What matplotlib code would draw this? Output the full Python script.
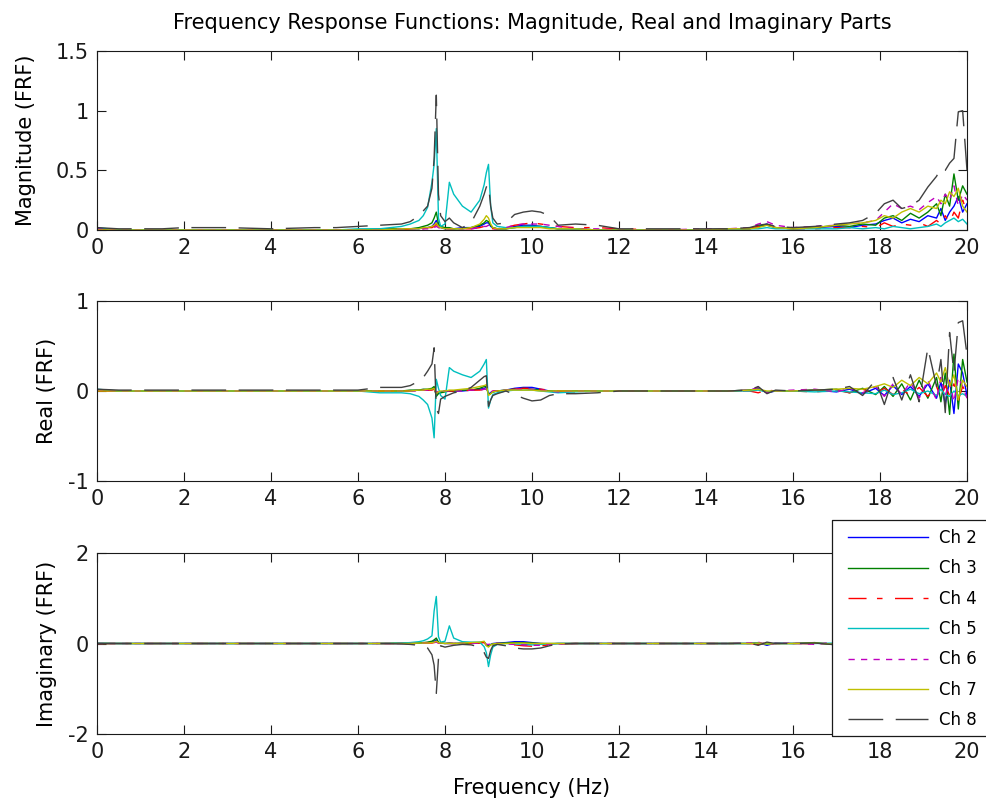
import matplotlib
matplotlib.use("Agg")
import matplotlib.pyplot as plt
from matplotlib.patches import Rectangle
from matplotlib.lines import Line2D

plt.rcParams['font.family'] = ['DejaVu Sans']
plt.rcParams['axes.unicode_minus'] = False

# ---------------- data ----------------
freq = [0, 0.5, 1, 1.5, 2, 3, 4, 5, 5.5, 6,
        6.5, 7, 7.2, 7.4, 7.5, 7.6, 7.7, 7.75, 7.8, 7.85,
        7.9, 8.0, 8.1, 8.2, 8.4, 8.6, 8.8, 8.9, 8.95, 9.0,
        9.05, 9.1, 9.2, 9.4, 9.6, 9.8, 10.0, 10.2, 10.4, 10.6,
        11.0, 11.5, 12, 13, 14, 14.5, 15, 15.2, 15.4, 15.6,
        16, 16.5, 17, 17.3, 17.6, 17.9, 18.1, 18.3, 18.5, 18.7,
        18.9, 19.1, 19.3, 19.4, 19.5, 19.6, 19.7, 19.8, 19.9, 20]

channels = ["Ch 2", "Ch 3", "Ch 4", "Ch 5", "Ch 6", "Ch 7", "Ch 8"]

# Magnitude
mag_ch2 = [0.01, 0.00, 0.00, 0.00, 0.00, 0.00, 0.00, 0.00, 0.00, 0.00,
           0.00, 0.01, 0.01, 0.01, 0.02, 0.02, 0.03, 0.05, 0.08, 0.03,
           0.02, 0.01, 0.01, 0.01, 0.02, 0.02, 0.03, 0.05, 0.06, 0.06,
           0.03, 0.02, 0.01, 0.01, 0.03, 0.04, 0.04, 0.03, 0.02, 0.01,
           0.01, 0.00, 0.00, 0.00, 0.00, 0.01, 0.01, 0.03, 0.05, 0.02,
           0.01, 0.02, 0.03, 0.02, 0.04, 0.05, 0.08, 0.10, 0.06, 0.09,
           0.07, 0.12, 0.10, 0.18, 0.08, 0.15, 0.20, 0.28, 0.15, 0.22]
mag_ch3 = [0.01, 0.00, 0.00, 0.00, 0.00, 0.00, 0.00, 0.00, 0.00, 0.00,
           0.01, 0.01, 0.01, 0.02, 0.03, 0.04, 0.06, 0.10, 0.15, 0.05,
           0.03, 0.02, 0.02, 0.01, 0.01, 0.02, 0.04, 0.06, 0.08, 0.07,
           0.04, 0.02, 0.01, 0.01, 0.02, 0.03, 0.03, 0.03, 0.02, 0.01,
           0.01, 0.00, 0.00, 0.00, 0.00, 0.01, 0.01, 0.03, 0.04, 0.02,
           0.01, 0.02, 0.04, 0.03, 0.05, 0.04, 0.10, 0.12, 0.08, 0.14,
           0.10, 0.15, 0.22, 0.12, 0.30, 0.20, 0.47, 0.25, 0.37, 0.30]
mag_ch4 = [0.00, 0.00, 0.00, 0.00, 0.00, 0.00, 0.00, 0.00, 0.00, 0.00,
           0.00, 0.00, 0.01, 0.01, 0.01, 0.02, 0.02, 0.03, 0.05, 0.02,
           0.01, 0.01, 0.01, 0.01, 0.01, 0.01, 0.02, 0.03, 0.04, 0.04,
           0.02, 0.01, 0.01, 0.02, 0.04, 0.05, 0.06, 0.05, 0.04, 0.03,
           0.02, 0.02, 0.01, 0.00, 0.00, 0.01, 0.01, 0.03, 0.05, 0.02,
           0.01, 0.01, 0.02, 0.02, 0.03, 0.02, 0.06, 0.03, 0.05, 0.04,
           0.06, 0.03, 0.08, 0.05, 0.12, 0.06, 0.15, 0.10, 0.25, 0.15]
mag_ch5 = [0.02, 0.00, 0.00, 0.00, 0.00, 0.00, 0.00, 0.00, 0.00, 0.01,
           0.01, 0.03, 0.05, 0.08, 0.12, 0.19, 0.40, 0.55, 0.85, 0.10,
           0.03, 0.05, 0.40, 0.30, 0.20, 0.15, 0.25, 0.38, 0.48, 0.55,
           0.20, 0.06, 0.03, 0.02, 0.02, 0.03, 0.03, 0.03, 0.02, 0.01,
           0.01, 0.00, 0.00, 0.00, 0.00, 0.01, 0.01, 0.01, 0.02, 0.01,
           0.01, 0.01, 0.01, 0.02, 0.01, 0.02, 0.01, 0.03, 0.02, 0.01,
           0.02, 0.03, 0.05, 0.03, 0.06, 0.08, 0.10, 0.07, 0.09, 0.05]
mag_ch6 = [0.01, 0.00, 0.00, 0.00, 0.00, 0.00, 0.00, 0.00, 0.00, 0.00,
           0.00, 0.01, 0.01, 0.01, 0.01, 0.01, 0.02, 0.02, 0.03, 0.02,
           0.01, 0.01, 0.01, 0.01, 0.01, 0.01, 0.02, 0.03, 0.03, 0.04,
           0.02, 0.01, 0.01, 0.02, 0.04, 0.05, 0.05, 0.05, 0.04, 0.03,
           0.01, 0.01, 0.00, 0.00, 0.01, 0.01, 0.02, 0.05, 0.07, 0.04,
           0.02, 0.03, 0.04, 0.05, 0.06, 0.08, 0.15, 0.22, 0.18, 0.20,
           0.17, 0.23, 0.28, 0.22, 0.30, 0.25, 0.37, 0.20, 0.30, 0.25]
mag_ch7 = [0.00, 0.00, 0.00, 0.00, 0.00, 0.00, 0.00, 0.00, 0.00, 0.00,
           0.00, 0.01, 0.01, 0.01, 0.02, 0.02, 0.03, 0.04, 0.06, 0.03,
           0.02, 0.01, 0.01, 0.01, 0.01, 0.02, 0.05, 0.09, 0.12, 0.10,
           0.05, 0.02, 0.01, 0.01, 0.02, 0.02, 0.02, 0.02, 0.01, 0.01,
           0.01, 0.00, 0.00, 0.00, 0.00, 0.01, 0.01, 0.02, 0.04, 0.02,
           0.01, 0.02, 0.04, 0.05, 0.06, 0.08, 0.12, 0.10, 0.15, 0.18,
           0.15, 0.20, 0.18, 0.25, 0.22, 0.32, 0.28, 0.35, 0.20, 0.15]
mag_ch8 = [0.02, 0.01, 0.01, 0.01, 0.02, 0.02, 0.01, 0.02, 0.02, 0.03,
           0.04, 0.05, 0.07, 0.12, 0.16, 0.20, 0.35, 0.60, 1.13, 0.30,
           0.12, 0.07, 0.10, 0.06, 0.02, 0.06, 0.20, 0.30, 0.36, 0.38,
           0.20, 0.10, 0.05, 0.06, 0.13, 0.15, 0.16, 0.15, 0.12, 0.04,
           0.05, 0.04, 0.01, 0.01, 0.01, 0.01, 0.02, 0.04, 0.05, 0.03,
           0.02, 0.03, 0.05, 0.06, 0.08, 0.14, 0.22, 0.25, 0.18, 0.20,
           0.25, 0.36, 0.45, 0.52, 0.50, 0.56, 0.60, 0.99, 1.00, 0.50]

# Real part
re_ch2 = [0.01, 0.00, 0.00, 0.00, 0.00, 0.00, 0.00, 0.00, 0.00, 0.00,
          0.00, 0.00, 0.00, 0.01, 0.01, 0.01, 0.02, 0.03, -0.04, -0.02,
          -0.01, 0.00, 0.00, 0.00, 0.00, 0.01, 0.02, 0.03, 0.04, -0.03,
          -0.02, -0.01, 0.00, 0.01, 0.03, 0.04, 0.04, 0.02, 0.00, -0.01,
          0.00, 0.00, 0.00, 0.00, 0.00, 0.00, 0.01, 0.03, -0.02, 0.00,
          0.00, 0.01, -0.01, 0.02, -0.03, 0.03, -0.05, 0.06, -0.04, 0.05,
          -0.06, 0.08, -0.08, 0.10, -0.15, 0.12, -0.25, 0.30, 0.20, -0.05]
re_ch3 = [0.01, 0.00, 0.00, 0.00, 0.00, 0.00, 0.00, 0.00, 0.00, 0.00,
          0.00, 0.00, 0.01, 0.01, 0.02, 0.02, 0.03, 0.05, -0.06, -0.03,
          -0.02, -0.01, 0.00, 0.00, 0.01, 0.01, 0.03, 0.05, 0.05, -0.04,
          -0.03, -0.01, 0.00, 0.01, 0.02, 0.03, 0.02, 0.01, 0.00, 0.00,
          0.00, 0.00, 0.00, 0.00, 0.00, 0.00, 0.01, 0.02, -0.01, 0.00,
          0.00, 0.01, 0.02, -0.02, 0.03, -0.04, 0.05, -0.06, 0.08, -0.10,
          0.12, -0.08, 0.15, -0.12, 0.20, -0.26, 0.41, -0.20, 0.35, 0.10]
re_ch4 = [0.00, 0.00, 0.00, 0.00, 0.00, 0.00, 0.00, 0.00, 0.00, 0.00,
          0.00, 0.00, 0.00, 0.00, 0.01, 0.01, 0.01, 0.02, -0.02, -0.01,
          -0.01, 0.00, 0.00, 0.00, 0.00, 0.01, 0.01, 0.02, 0.02, -0.02,
          -0.01, 0.00, 0.00, 0.01, 0.02, 0.03, 0.03, 0.02, 0.01, 0.00,
          -0.01, 0.00, 0.00, 0.00, 0.00, 0.00, 0.00, -0.02, 0.01, 0.00,
          0.00, -0.01, 0.01, -0.02, 0.02, -0.03, 0.03, -0.04, 0.02, -0.05,
          0.04, -0.06, 0.05, -0.08, 0.06, -0.05, 0.08, -0.10, 0.05, -0.03]
re_ch5 = [0.02, 0.00, 0.00, 0.00, 0.00, 0.00, 0.00, 0.00, 0.00, 0.00,
          -0.02, -0.02, -0.03, -0.06, -0.10, -0.15, -0.30, -0.52, 0.13, 0.03,
          -0.05, -0.09, 0.26, 0.22, 0.18, 0.15, 0.22, 0.30, 0.35, -0.19,
          -0.10, -0.04, -0.02, 0.00, 0.01, 0.01, 0.01, 0.00, -0.01, -0.02,
          -0.01, 0.00, 0.00, 0.00, 0.00, 0.00, 0.00, 0.01, -0.01, 0.00,
          0.00, -0.01, 0.00, -0.01, -0.02, -0.03, 0.01, -0.04, -0.02, 0.02,
          -0.03, 0.00, -0.05, 0.02, -0.04, -0.06, 0.00, -0.05, -0.03, -0.06]
re_ch6 = [0.01, 0.00, 0.00, 0.00, 0.00, 0.00, 0.00, 0.00, 0.00, 0.00,
          0.00, 0.00, 0.00, 0.00, 0.01, 0.01, 0.01, 0.02, -0.02, 0.01,
          0.00, 0.00, 0.00, 0.00, 0.00, 0.01, 0.01, 0.02, 0.02, -0.02,
          -0.01, 0.00, 0.00, 0.01, 0.02, 0.02, 0.02, 0.01, 0.00, -0.01,
          0.00, 0.00, 0.00, 0.00, 0.00, 0.00, 0.01, 0.04, -0.02, 0.00,
          0.01, 0.02, -0.01, 0.03, -0.02, 0.05, -0.06, 0.08, -0.04, 0.10,
          -0.08, 0.12, -0.10, 0.15, -0.05, 0.10, -0.12, 0.15, 0.05, -0.08]
re_ch7 = [0.00, 0.00, 0.00, 0.00, 0.00, 0.00, 0.00, 0.00, 0.00, 0.00,
          0.00, 0.00, 0.00, 0.01, 0.01, 0.02, 0.02, 0.03, -0.03, -0.01,
          0.00, 0.00, 0.01, 0.01, 0.02, 0.03, 0.05, 0.06, 0.07, -0.05,
          -0.03, -0.01, 0.00, 0.01, 0.01, 0.01, 0.01, 0.00, 0.00, 0.00,
          0.00, 0.00, 0.00, 0.00, 0.00, 0.00, 0.01, 0.02, 0.00, 0.00,
          0.00, 0.01, 0.02, 0.03, 0.02, 0.05, 0.08, 0.04, 0.12, 0.06,
          0.15, 0.08, 0.20, 0.10, 0.26, 0.05, 0.18, -0.10, 0.12, 0.05]
re_ch8 = [0.02, 0.01, 0.01, 0.01, 0.01, 0.01, 0.01, 0.01, 0.01, 0.01,
          0.04, 0.04, 0.06, 0.11, 0.15, 0.22, 0.30, 0.48, -0.20, -0.25,
          -0.09, -0.06, -0.04, -0.02, 0.00, 0.04, 0.12, 0.16, 0.17, -0.17,
          -0.10, -0.05, -0.03, 0.00, -0.04, -0.08, -0.11, -0.10, -0.05, -0.03,
          -0.03, -0.02, 0.00, 0.00, 0.00, 0.00, 0.01, 0.05, -0.03, 0.01,
          0.00, 0.01, 0.02, 0.05, -0.05, 0.12, -0.15, 0.15, -0.10, 0.18,
          -0.12, 0.48, 0.05, 0.35, -0.24, 0.65, 0.20, 0.76, 0.78, 0.40]

# Imaginary part
im_ch2 = [0.00, 0.00, 0.00, 0.00, 0.00, 0.00, 0.00, 0.00, 0.00, 0.00,
          0.00, 0.00, 0.00, 0.01, 0.01, 0.02, 0.03, 0.05, 0.08, 0.02,
          0.01, 0.00, 0.00, 0.00, 0.01, 0.01, 0.02, 0.03, -0.03, -0.05,
          -0.02, 0.00, 0.01, 0.02, 0.04, 0.04, 0.02, 0.00, -0.01, 0.00,
          0.00, 0.00, 0.00, 0.00, 0.00, 0.00, 0.00, 0.02, -0.04, 0.01,
          0.00, 0.01, -0.02, 0.02, -0.03, 0.04, -0.05, 0.06, -0.04, 0.05,
          -0.06, 0.08, -0.10, 0.12, -0.08, 0.15, -0.12, 0.10, -0.05, 0.03]
im_ch3 = [0.00, 0.00, 0.00, 0.00, 0.00, 0.00, 0.00, 0.00, 0.00, 0.00,
          0.00, 0.01, 0.01, 0.01, 0.02, 0.03, 0.05, 0.08, 0.12, 0.03,
          0.01, 0.00, 0.01, 0.00, 0.00, 0.01, 0.02, 0.04, -0.04, -0.06,
          -0.03, -0.01, 0.00, 0.01, 0.02, 0.02, 0.01, 0.00, 0.00, 0.00,
          0.00, 0.00, 0.00, 0.00, 0.00, 0.00, 0.00, 0.01, -0.02, 0.00,
          0.00, 0.02, -0.03, 0.03, -0.04, 0.05, -0.06, 0.08, -0.05, 0.10,
          -0.08, 0.12, -0.15, 0.20, -0.25, 0.30, -0.35, 0.20, -0.15, 0.10]
im_ch4 = [0.00, 0.00, 0.00, 0.00, 0.00, 0.00, 0.00, 0.00, 0.00, 0.00,
          0.00, 0.00, 0.00, 0.00, 0.01, 0.01, 0.01, 0.02, 0.04, 0.01,
          0.00, 0.00, 0.00, 0.00, 0.00, 0.00, 0.01, 0.02, -0.02, -0.03,
          -0.01, 0.00, 0.00, -0.01, -0.03, -0.05, -0.06, -0.05, -0.03, -0.01,
          0.00, 0.00, 0.00, 0.00, 0.00, 0.00, 0.00, -0.02, 0.02, 0.00,
          0.00, -0.01, 0.02, -0.02, 0.02, -0.03, 0.04, -0.05, 0.03, -0.06,
          0.05, -0.08, 0.06, -0.10, 0.08, -0.12, 0.10, -0.15, 0.20, -0.10]
im_ch5 = [0.01, 0.00, 0.00, 0.00, 0.00, 0.00, 0.00, 0.00, 0.00, 0.00,
          0.00, 0.01, 0.02, 0.04, 0.06, 0.10, 0.17, 0.72, 1.04, 0.15,
          0.03, 0.05, 0.39, 0.12, 0.04, 0.03, 0.03, -0.07, -0.20, -0.51,
          -0.25, -0.08, -0.02, 0.00, -0.01, -0.02, -0.03, -0.02, -0.01, 0.00,
          0.00, 0.00, 0.00, 0.00, 0.00, 0.00, 0.00, 0.01, -0.01, 0.00,
          0.00, 0.00, 0.01, -0.01, 0.02, -0.02, 0.02, -0.03, 0.03, -0.02,
          0.03, -0.04, 0.05, -0.03, 0.04, -0.06, 0.05, -0.04, 0.06, -0.03]
im_ch6 = [0.00, 0.00, 0.00, 0.00, 0.00, 0.00, 0.00, 0.00, 0.00, 0.00,
          0.00, 0.00, 0.00, 0.00, 0.01, 0.01, 0.01, 0.02, 0.03, 0.01,
          0.00, 0.00, 0.00, 0.00, 0.00, 0.00, 0.01, 0.01, -0.02, -0.02,
          -0.01, 0.00, 0.00, -0.01, -0.02, -0.03, -0.04, -0.04, -0.02, -0.01,
          0.00, 0.00, 0.00, 0.00, 0.00, 0.00, 0.01, 0.03, -0.03, 0.00,
          0.01, -0.02, 0.03, -0.03, 0.04, -0.05, 0.06, -0.08, 0.07, -0.10,
          0.12, -0.10, 0.15, -0.12, 0.10, -0.15, 0.20, -0.10, 0.08, -0.05]
im_ch7 = [0.00, 0.00, 0.00, 0.00, 0.00, 0.00, 0.00, 0.00, 0.00, 0.00,
          0.00, 0.00, 0.00, 0.01, 0.01, 0.01, 0.02, 0.03, 0.05, 0.02,
          0.01, 0.00, 0.00, 0.00, 0.01, 0.02, 0.03, 0.05, -0.05, -0.08,
          -0.03, -0.01, 0.00, 0.00, 0.01, 0.01, 0.00, 0.00, 0.00, 0.00,
          0.00, 0.00, 0.00, 0.00, 0.00, 0.00, 0.00, 0.01, -0.01, 0.00,
          0.00, 0.01, -0.02, 0.03, -0.03, 0.04, -0.05, 0.06, -0.08, 0.10,
          -0.12, 0.15, -0.10, 0.18, -0.20, 0.12, -0.15, 0.20, -0.10, 0.05]
im_ch8 = [0.00, 0.00, 0.00, 0.00, 0.00, 0.00, 0.00, 0.00, 0.00, 0.00,
          0.00, -0.01, -0.02, -0.04, -0.06, -0.10, -0.25, -0.48, -1.10, -0.33,
          -0.05, -0.08, -0.06, -0.04, -0.02, -0.03, -0.08, -0.20, -0.30, -0.33,
          -0.15, -0.05, -0.02, -0.05, -0.10, -0.12, -0.12, -0.10, -0.05, -0.01,
          0.00, 0.00, 0.00, 0.00, 0.00, 0.00, 0.01, -0.04, 0.03, 0.00,
          0.00, 0.01, -0.03, 0.04, -0.05, 0.06, -0.10, 0.12, -0.08, 0.15,
          -0.12, 0.20, -0.25, 0.30, -0.30, 0.35, -0.40, 0.50, -0.60, 0.30]

mag_all = [mag_ch2, mag_ch3, mag_ch4, mag_ch5, mag_ch6, mag_ch7, mag_ch8]
re_all = [re_ch2, re_ch3, re_ch4, re_ch5, re_ch6, re_ch7, re_ch8]
im_all = [im_ch2, im_ch3, im_ch4, im_ch5, im_ch6, im_ch7, im_ch8]

x_ticks = [0, 2, 4, 6, 8, 10, 12, 14, 16, 18, 20]
mag_ticks = [0, 0.5, 1, 1.5]
mag_ticklabels = ["0", "0.5", "1", "1.5"]
re_ticks = [-1, 0, 1]
im_ticks = [-2, 0, 2]

# ---------------- styles ----------------
colors = [(0, 0, 1), (0, 0.5, 0), (1, 0, 0), (0, 0.75, 0.75),
          (0.75, 0, 0.75), (0.75, 0.75, 0), (0.25, 0.25, 0.25)]
dashes = [None, None, (13, 7.5, 4, 9), None, (4.5, 4.5), None, (25, 9)]
LW = 1.0
FS = 15

W, H = 987, 810
fig = plt.figure(figsize=(W / 100, H / 100), dpi=100)
left = 97 / W
width = 870 / W
ax1 = fig.add_axes([left, 1 - 230 / H, width, 179 / H])
ax2 = fig.add_axes([left, 1 - 481 / H, width, 180 / H])
ax3 = fig.add_axes([left, 1 - 734 / H, width, 181 / H])


def draw(ax, series):
    lines = []
    for vals, c, d in zip(series, colors, dashes):
        ln, = ax.plot(freq, vals, color=c, lw=LW)
        if d is not None:
            ln.set_dashes(d)
        lines.append(ln)
    ax.set_xlim(0, 20)
    ax.set_xticks(x_ticks)
    ax.tick_params(direction='in', length=6.5, width=0.8, top=True, right=True,
                   labelsize=FS, pad=6, colors='0.1')
    for s in ax.spines.values():
        s.set_linewidth(0.8)
        s.set_color('0.1')
    return lines


lines = draw(ax1, mag_all)
ax1.set_ylim(0, 1.5)
ax1.set_yticks(mag_ticks)
ax1.set_yticklabels(mag_ticklabels)
ax1.set_ylabel("Magnitude (FRF)", fontsize=FS, labelpad=14)
ax1.set_title("Frequency Response Functions: Magnitude, Real and Imaginary Parts",
              fontsize=FS, pad=16)

draw(ax2, re_all)
ax2.set_ylim(-1, 1)
ax2.set_yticks(re_ticks)
ax2.set_ylabel("Real (FRF)", fontsize=FS, labelpad=8)

draw(ax3, im_all)
ax3.set_ylim(-2, 2)
ax3.set_yticks(im_ticks)
ax3.set_ylabel("Imaginary (FRF)", fontsize=FS, labelpad=8)
ax3.set_xlabel("Frequency (Hz)", fontsize=FS, labelpad=11)

# legend box: white fill plus left/top/bottom edges; it runs past the right edge
fx0, fx1 = 832 / W, 1.1
fy0, fy1 = 1 - 736 / H, 1 - 520 / H
fill = Rectangle((fx0, fy0), fx1 - fx0, fy1 - fy0, transform=fig.transFigure,
                 facecolor='white', edgecolor='none', zorder=4)
fig.patches.append(fill)
edge = Line2D([fx1, fx0, fx0, fx1], [fy1, fy1, fy0, fy0], transform=fig.transFigure,
              color='0.1', lw=0.9, zorder=4.5)
fig.lines.append(edge)

handles = []
for c, d in zip(colors, dashes):
    h = Line2D([], [], color=c, lw=LW)
    if d is not None:
        h.set_dashes(d)
    handles.append(h)
leg = fig.legend(handles, channels, loc='upper left',
                 bbox_to_anchor=(848 / W, 1 - 529 / H), bbox_transform=fig.transFigure,
                 frameon=False, borderpad=0, borderaxespad=0,
                 handlelength=4.8, handletextpad=0.66, labelspacing=0.74,
                 fontsize=12)
leg.set_zorder(5)

fig.savefig("out.png", dpi=100)
